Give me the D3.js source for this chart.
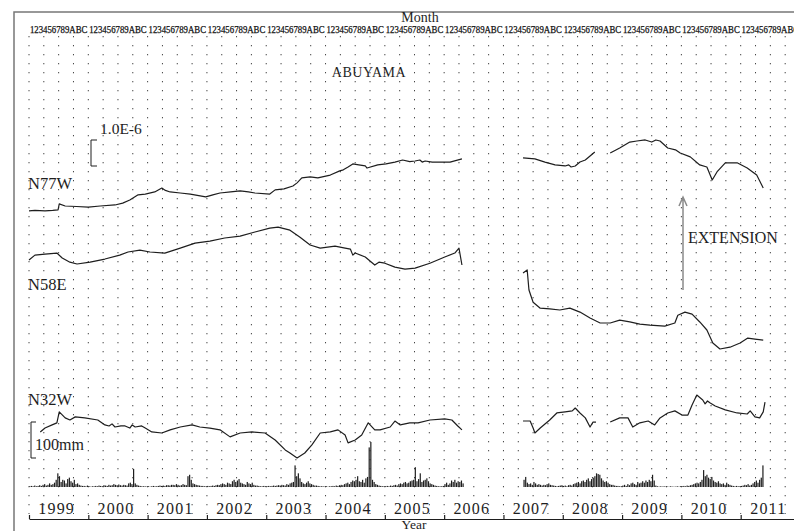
<!DOCTYPE html>
<html>
<head>
<meta charset="utf-8">
<script src="https://cdn.jsdelivr.net/npm/d3@7"></script>
<style>
  html, body { margin: 0; padding: 0; background: #fff; }
  svg { display: block; font-family: "Liberation Serif", "Times New Roman", serif; }
</style>
</head>
<body>
<div id="chart"></div>
<script>
// ---- data (decimal year, strain x1e-6 relative to series start) ----
const years = d3.range(1999, 2012);
const monthCodes = ['1', '2', '3', '4', '5', '6', '7', '8', '9', 'A', 'B', 'C'];

const n77w = [
  [1999.00, 0], [1999.10, 0.02], [1999.27, 0], [1999.40, 0.02], [1999.49, 0.04], [1999.51, 0.27],
  [1999.61, 0.19], [1999.80, 0.17], [2000.00, 0.15], [2000.20, 0.19], [2000.45, 0.23], [2000.58, 0.30],
  [2000.70, 0.42], [2000.84, 0.62], [2000.96, 0.65], [2001.12, 0.73], [2001.24, 0.88], [2001.30, 0.79],
  [2001.38, 0.73], [2001.55, 0.69], [2001.72, 0.65], [2001.98, 0.54], [2002.10, 0.62], [2002.22, 0.69],
  [2002.40, 0.73], [2002.56, 0.77], [2002.70, 0.73], [2002.81, 0.69], [2003.06, 0.65], [2003.15, 0.81],
  [2003.30, 0.85], [2003.45, 0.96], [2003.52, 1.08], [2003.60, 1.27], [2003.74, 1.31], [2003.87, 1.27],
  [2004.08, 1.38], [2004.24, 1.54], [2004.30, 1.58], [2004.38, 1.69], [2004.46, 1.81], [2004.56, 1.77],
  [2004.67, 1.73], [2004.70, 1.65], [2004.88, 1.77], [2005.02, 1.81], [2005.17, 1.88], [2005.30, 1.96],
  [2005.42, 1.90], [2005.51, 1.92], [2005.59, 1.96], [2005.63, 1.88], [2005.68, 1.92], [2005.80, 1.88],
  [2005.93, 1.88], [2006.10, 1.88], [2006.30, 2.00],
  null,
  [2007.33, 2.04], [2007.53, 2.00], [2007.70, 1.88], [2007.87, 1.77], [2008.04, 1.73], [2008.10, 1.77],
  [2008.14, 1.69], [2008.21, 1.73], [2008.29, 1.88], [2008.38, 1.96], [2008.54, 2.27],
  null,
  [2008.80, 2.23], [2008.96, 2.42], [2009.13, 2.65], [2009.25, 2.69], [2009.39, 2.73], [2009.50, 2.65],
  [2009.57, 2.73], [2009.64, 2.69], [2009.77, 2.42], [2009.90, 2.35], [2009.98, 2.23], [2010.15, 2.08],
  [2010.31, 1.77], [2010.43, 1.69], [2010.52, 1.19], [2010.60, 1.50], [2010.74, 1.85], [2010.94, 1.85],
  [2011.11, 1.65], [2011.27, 1.38], [2011.38, 0.88]
];

const n58e = [
  [1999.00, 0], [1999.10, 0.19], [1999.27, 0.23], [1999.47, 0.27], [1999.56, 0.08], [1999.69, -0.08],
  [1999.81, -0.15], [2000.03, -0.08], [2000.28, 0.04], [2000.53, 0.19], [2000.67, 0.31], [2000.87, 0.38],
  [2001.04, 0.31], [2001.29, 0.27], [2001.55, 0.46], [2001.80, 0.65], [2002.05, 0.73], [2002.30, 0.85],
  [2002.56, 0.92], [2002.81, 1.08], [2003.06, 1.23], [2003.20, 1.27], [2003.40, 1.15], [2003.57, 0.88],
  [2003.74, 0.58], [2003.91, 0.46], [2004.16, 0.54], [2004.33, 0.46], [2004.42, 0.42], [2004.46, 0.19],
  [2004.50, 0.27], [2004.67, 0.12], [2004.83, -0.19], [2004.90, -0.08], [2005.00, -0.12], [2005.17, -0.27],
  [2005.34, -0.35], [2005.51, -0.31], [2005.76, -0.12], [2006.01, 0.12], [2006.18, 0.27], [2006.25, 0.46],
  [2006.30, -0.19],
  null,
  [2007.33, -0.50], [2007.40, -0.38], [2007.43, -1.15], [2007.50, -1.62], [2007.62, -1.85], [2007.78, -1.88],
  [2007.95, -1.92], [2008.12, -1.85], [2008.29, -2.00], [2008.46, -2.23], [2008.63, -2.42], [2008.80, -2.42],
  [2008.96, -2.31], [2009.13, -2.38], [2009.30, -2.46], [2009.47, -2.50], [2009.72, -2.54], [2009.89, -2.42],
  [2009.94, -2.12], [2010.06, -2.00], [2010.18, -2.08], [2010.31, -2.38], [2010.43, -2.69], [2010.53, -3.19],
  [2010.65, -3.42], [2010.82, -3.35], [2010.99, -3.19], [2011.12, -3.00], [2011.24, -3.04], [2011.38, -3.08]
];

const n32w = [
  [1999.19, 0], [1999.27, 0.15], [1999.39, 0.27], [1999.47, 0.35], [1999.51, 0.77], [1999.61, 0.54],
  [1999.69, 0.46], [1999.78, 0.58], [1999.94, 0.54], [2000.16, 0.46], [2000.28, 0.27], [2000.35, 0.23],
  [2000.40, 0.31], [2000.45, 0.19], [2000.55, 0.23], [2000.62, 0.23], [2000.70, 0.15], [2000.74, 0.27],
  [2000.79, 0.19], [2000.90, 0.23], [2000.96, 0.15], [2001.07, 0], [2001.24, -0.04], [2001.38, 0.08],
  [2001.55, 0.19], [2001.75, 0.27], [2001.88, 0.19], [2002.05, 0.15], [2002.22, 0.08], [2002.39, -0.19],
  [2002.56, -0.04], [2002.76, 0], [2002.98, -0.04], [2003.15, -0.31], [2003.32, -0.69], [2003.40, -0.81],
  [2003.52, -1.00], [2003.65, -0.81], [2003.77, -0.50], [2003.91, -0.04], [2004.08, 0], [2004.21, 0.08],
  [2004.33, -0.12], [2004.38, -0.42], [2004.50, -0.31], [2004.61, -0.12], [2004.72, 0.35], [2004.83, 0.08],
  [2004.92, 0.08], [2005.09, 0.19], [2005.17, 0.42], [2005.26, 0.27], [2005.42, 0.35], [2005.56, 0.35],
  [2005.76, 0.46], [2006.01, 0.50], [2006.13, 0.46], [2006.23, 0.23], [2006.30, 0.08],
  null,
  [2007.33, 0.42], [2007.45, 0.42], [2007.50, 0.15], [2007.53, -0.04], [2007.62, 0.15], [2007.78, 0.46],
  [2007.90, 0.73], [2008.04, 0.77], [2008.16, 0.81], [2008.21, 0.92], [2008.29, 0.73], [2008.38, 0.54],
  [2008.46, 0.19], [2008.51, 0.38], [2008.56, 0.38],
  null,
  [2008.80, 0.38], [2008.96, 0.54], [2009.10, 0.54], [2009.18, 0.19], [2009.30, 0.35], [2009.44, 0.42],
  [2009.55, 0.27], [2009.64, 0.54], [2009.77, 0.73], [2009.89, 0.81], [2010.01, 0.65], [2010.11, 0.65],
  [2010.18, 1.04], [2010.26, 1.42], [2010.36, 1.23], [2010.40, 1.08], [2010.44, 1.19], [2010.48, 1.12],
  [2010.57, 1.00], [2010.74, 0.85], [2010.94, 0.73], [2011.11, 0.69], [2011.16, 0.81], [2011.24, 0.58],
  [2011.32, 0.54], [2011.38, 0.77], [2011.41, 1.15]
];

// rainfall, mm per 10-day period; [year, first period index, values]
const rain1999 = [2,3,2, 4,2,3, 5,3,6, 8,4,6, 10,6,8, 12,20,38, 30,14,20, 18,10,22, 26,16,12, 20,8,10, 6,4,3, 3,2,4];
const rain2000 = [2,1,2, 2,3,2, 4,3,2, 5,4,3, 6,4,5, 8,6,5, 7,5,4, 6,5,4, 10,12,8, 50,10,6, 4,3,2, 2,2,1];
const rain2001 = [2,1,2, 3,2,2, 3,4,3, 4,3,5, 5,4,6, 6,5,8, 6,4,5, 8,6,5, 30,34,20, 10,8,6, 5,4,3, 3,2,2];
const rain2002 = [3,2,3, 4,3,5, 6,5,8, 10,8,6, 12,10,8, 16,20,14, 18,22,12, 10,8,6, 14,10,8, 12,6,4, 4,3,2, 2,3,2];
const rain2003 = [2,3,2, 3,4,3, 4,5,4, 6,5,4, 8,6,10, 12,14,60, 30,38,24, 14,10,8, 12,16,10, 8,6,4, 4,3,2, 2,2,1];
const rain2004 = [2,1,2, 2,3,2, 4,3,5, 6,5,8, 10,12,8, 14,18,16, 20,30,16, 14,20,12, 24,28,110, 125,20,14, 8,6,4, 3,2,2];
const rain2005 = [2,3,2, 4,3,5, 6,4,8, 10,8,12, 14,10,12, 16,18,20, 55,16,22, 38,14,18, 20,24,16, 10,8,6, 4,3,2, 2,2,3];
const rain2006 = [8,12,6, 10,18,14, 20,12,16, 14,18,10];
const rain2007 = [20,28,12, 8,10,6, 14,10,6, 8,6,4, 6,5,8, 10,6,5, 4,3,2, 3,4,5];
const rain2008 = [3,4,2, 5,6,4, 8,10,12, 14,10,16, 18,14,20, 24,16,22, 26,30,38, 36,34,24, 18,14,16, 12,8,6, 6,4,3, 3,2,2];
const rain2009 = [4,6,3, 8,5,10, 12,8,6, 14,10,12, 16,12,18, 14,20,16, 34,18,4, 2,1,2, 1,2,1, 1,1,2, 1,1,1, 2,1,2];
const rain2010 = [2,3,2, 4,3,5, 6,8,10, 12,10,14, 20,47,30, 34,26,22, 28,18,14, 12,16,10, 8,10,6, 12,8,6, 4,3,2, 3,2,2];
const rain2011 = [3,4,6, 5,8,4, 6,10,14, 18,12,20, 26,60];
const rainYears = [
  [1999, 0, rain1999], [2000, 0, rain2000], [2001, 0, rain2001], [2002, 0, rain2002],
  [2003, 0, rain2003], [2004, 0, rain2004], [2005, 0, rain2005], [2006, 0, rain2006],
  [2007, 12, rain2007], [2008, 0, rain2008], [2009, 0, rain2009], [2010, 0, rain2010],
  [2011, 0, rain2011]
];

// ---- layout ----
const width = 794;
const height = 531;
const ink = '#1e1e1e';

const svg = d3.select('#chart')
  .append('svg')
  .attr('width', width)
  .attr('height', height);

const x = d3.scaleLinear().domain([1999, 2012]).range([29, 800]);
// 1.0E-6 of strain = 26 px
const yStrain = d3.scaleLinear().domain([0, 16]).range([466, 50]);
// 100 mm = 36 px
const yRain = d3.scaleLinear().domain([0, 100]).range([487, 451]);

// offsets of each component in strain units
const series = [
  { name: 'N77W', data: n77w, offset: 9.81 },
  { name: 'N58E', data: n58e, offset: 7.92 },
  { name: 'N32W', data: n32w, offset: 1.31 }
];

// Outer frame
svg.append('path')
  .attr('d', `M14,${height}V12H${width}`)
  .attr('fill', 'none')
  .attr('stroke', '#777')
  .attr('stroke-width', 1.5);

// Quarterly dotted grid
const quarters = d3.range(0, 13 * 4 + 1).map((k) => 1999 + k / 4);
svg.append('g')
  .selectAll('line')
  .data(quarters)
  .join('line')
  .attr('x1', (d) => x(d))
  .attr('x2', (d) => x(d))
  .attr('y1', 36)
  .attr('y2', 514)
  .attr('stroke', '#444')
  .attr('stroke-width', 1)
  .attr('stroke-dasharray', '1.3,7.7');

// Month strip: one squeezed run of 12 month codes per year
svg.append('g')
  .selectAll('text')
  .data(years)
  .join('text')
  .attr('x', (d) => x(d) + 0.9)
  .attr('y', 33)
  .attr('font-size', 10)
  .attr('textLength', (d) => x(d + 1) - x(d) - 1.8)
  .attr('lengthAdjust', 'spacingAndGlyphs')
  .attr('fill', '#111')
  .attr('stroke', '#111')
  .attr('stroke-width', 0.25)
  .text(monthCodes.join(''));

svg.append('text')
  .attr('x', 420)
  .attr('y', 22)
  .attr('text-anchor', 'middle')
  .attr('font-size', 14)
  .attr('fill', ink)
  .text('Month');

// Strain lines
const line = d3.line()
  .defined((d) => d !== null)
  .x((d) => x(d[0]));

series.forEach((s) => {
  svg.append('path')
    .datum(s.data)
    .attr('fill', 'none')
    .attr('stroke', ink)
    .attr('stroke-width', 1.2)
    .attr('stroke-linejoin', 'round')
    .attr('d', line.y((d) => yStrain(d[1] + s.offset)));
});

// Rainfall bars
const rain = [];
rainYears.forEach(([yr, start, vals]) => {
  vals.forEach((v, i) => rain.push({ t: yr + (start + i + 0.5) / 36, v }));
});
svg.append('g')
  .selectAll('rect')
  .data(rain)
  .join('rect')
  .attr('x', (d) => x(d.t) - 0.6)
  .attr('width', 1.2)
  .attr('y', (d) => yRain(d.v))
  .attr('height', (d) => yRain(0) - yRain(d.v))
  .attr('fill', ink);

// Year axis (ticks point up)
const xAxis = d3.axisTop(x)
  .tickValues(years.concat([2012]))
  .tickSize(4)
  .tickSizeOuter(0)
  .tickFormat('');
svg.append('g')
  .attr('transform', 'translate(0,519)')
  .call(xAxis)
  .call((g) => g.select('.domain').attr('stroke', ink).attr('stroke-width', 1.2))
  .call((g) => g.selectAll('.tick line').attr('stroke', ink).attr('stroke-width', 1.2));

svg.append('g')
  .selectAll('text')
  .data(years)
  .join('text')
  .attr('x', (d) => x(d + 0.5) - 2)
  .attr('y', 514)
  .attr('text-anchor', 'middle')
  .attr('font-size', 16)
  .attr('letter-spacing', 1.2)
  .attr('fill', ink)
  .text((d) => d);

svg.append('text')
  .attr('x', 414)
  .attr('y', 529)
  .attr('text-anchor', 'middle')
  .attr('font-size', 13.5)
  .attr('fill', ink)
  .text('Year');

// Labels
const labels = [
  { text: 'ABUYAMA', x: 369, y: 77, size: 14, anchor: 'middle', spacing: 0.5 },
  { text: '1.0E-6', x: 100, y: 134, size: 15.5 },
  { text: 'N77W', x: 28, y: 189, size: 16.5 },
  { text: 'N58E', x: 28, y: 290, size: 16.5 },
  { text: 'N32W', x: 28, y: 405, size: 16.5 },
  { text: '100mm', x: 35, y: 450, size: 16 },
  { text: 'EXTENSION', x: 688, y: 243, size: 16 }
];
svg.append('g')
  .selectAll('text')
  .data(labels)
  .join('text')
  .attr('x', (d) => d.x)
  .attr('y', (d) => d.y)
  .attr('text-anchor', (d) => d.anchor || 'start')
  .attr('letter-spacing', (d) => d.spacing || 0)
  .attr('font-size', (d) => d.size)
  .attr('fill', ink)
  .text((d) => d.text);

// Scale brackets
const strainUnit = yStrain(0) - yStrain(1);
const rainUnit = yRain(0) - yRain(100);
const bracket = (x0, y0, h, w) => `M${x0 + w},${y0}H${x0}V${y0 + h}H${x0 + w}`;
svg.append('path')
  .attr('d', bracket(91, 140, strainUnit, 6))
  .attr('fill', 'none')
  .attr('stroke', ink)
  .attr('stroke-width', 1);
svg.append('path')
  .attr('d', bracket(31, 422, rainUnit, 5))
  .attr('fill', 'none')
  .attr('stroke', ink)
  .attr('stroke-width', 1);

// Extension arrow
svg.append('path')
  .attr('d', 'M683,290V197M679,206L683,197L687,206')
  .attr('fill', 'none')
  .attr('stroke', '#8a8a8a')
  .attr('stroke-width', 1.5);
</script>
</body>
</html>
